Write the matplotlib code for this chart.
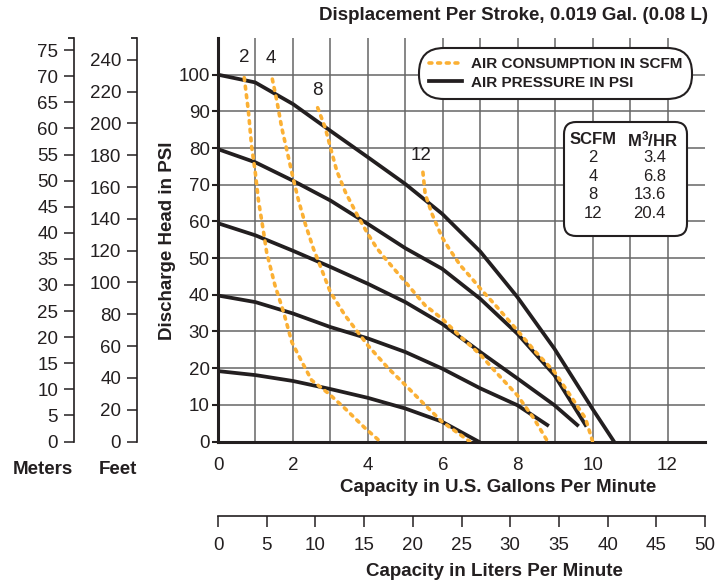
import numpy as np
import matplotlib
matplotlib.use("Agg")
import matplotlib.pyplot as plt
from matplotlib.patches import FancyBboxPatch

plt.rcParams['font.family'] = ['Liberation Sans Narrow', 'Liberation Sans', 'DejaVu Sans']
plt.rcParams['mathtext.default'] = 'regular'

# air pressure curves (psi); x = US gpm, y = discharge head psi
psi100_x = [0, 0.99, 2.0, 3.0, 4.0, 5.0, 5.98, 7.0, 7.99, 8.98, 9.99, 10.57]
psi100_y = [100, 97.9, 92.0, 84.7, 77.5, 70.2, 62.1, 51.8, 39.4, 25.3, 9.0, 0]
psi80_x = [0, 1.0, 2.0, 3.0, 4.0, 5.0, 5.98, 7.0, 7.99, 8.98, 9.81]
psi80_y = [79.7, 76.1, 71.1, 65.7, 59.3, 52.7, 47.1, 38.9, 29.4, 18.1, 4.5]
psi60_x = [0, 1.0, 2.0, 3.0, 4.0, 5.0, 5.98, 7.0, 7.99, 8.98, 9.59]
psi60_y = [59.5, 56.2, 52.0, 47.6, 43.0, 38.0, 32.1, 24.4, 17.2, 9.9, 4.5]
psi40_x = [0, 1.0, 2.0, 3.0, 4.0, 5.0, 5.98, 7.0, 7.99, 8.79]
psi40_y = [39.8, 38.0, 34.9, 31.2, 28.1, 24.4, 19.9, 14.5, 9.9, 4.5]
psi20_x = [0, 1.0, 2.0, 3.0, 4.0, 5.0, 5.98, 6.95]
psi20_y = [19.2, 18.1, 16.5, 14.3, 11.9, 9.0, 5.4, 0]

# air consumption curves (scfm)
scfm2_x = [0.70, 0.81, 0.90, 0.99, 1.08, 1.21, 1.30, 1.52, 1.75, 1.97, 2.24, 2.5, 2.95, 3.39, 3.93, 4.33]
scfm2_y = [99.2, 90.2, 80.2, 73.8, 65.7, 57.5, 51.5, 42.6, 35.3, 27.1, 21.7, 16.7, 13.1, 9.0, 3.6, 0]
scfm4_x = [1.45, 1.57, 1.70, 1.84, 2.0, 2.15, 2.33, 2.55, 2.69, 3.0, 3.39, 4.0, 4.55, 5.0, 5.53, 5.98, 6.72]
scfm4_y = [98.8, 92.9, 85.6, 79.3, 72.0, 65.7, 59.3, 52.5, 48.9, 40.7, 34.4, 26.2, 19.9, 15.4, 9.9, 5.4, 0]
scfm8_x = [2.66, 2.86, 3.0, 3.17, 3.4, 3.75, 4.0, 4.24, 4.47, 5.0, 5.53, 5.98, 6.43, 7.0, 7.41, 7.99, 8.43, 8.8]
scfm8_y = [91.0, 85.6, 80.2, 73.8, 68.0, 61.1, 56.6, 52.7, 49.8, 43.5, 37.1, 33.5, 29.0, 23.7, 19.0, 12.6, 6.3, 0]
scfm12_x = [5.47, 5.53, 5.71, 5.98, 6.16, 6.47, 6.78, 7.0, 7.41, 7.99, 8.48, 8.98, 9.46, 9.81, 10.0]
scfm12_y = [73.4, 67.5, 62.1, 55.7, 52.7, 48.0, 44.4, 41.7, 37.1, 30.3, 24.4, 19.0, 11.7, 6.3, 0]

scfm_names = ["2", "4", "8", "12"]
m3hr_names = ["3.4", "6.8", "13.6", "20.4"]

gal_ticks = np.arange(0, 13, 2)
psi_ticks = np.arange(0, 101, 10)
m_ticks = np.arange(0, 76, 5)
ft_ticks = np.arange(0, 241, 20)
lpm_ticks = np.arange(0, 51, 5)

M_PER_PSI = 0.70307
FT_PER_PSI = 2.3067
PSI_MAX = 110

INK = '#231f20'
ORANGE = '#FBB034'
FS = 13.5

def px(x, y):
    return x / 728.0, 1 - y / 587.0

fig = plt.figure(figsize=(7.28, 5.87), dpi=100)
L, B, W, H = 218/728, 145.5/587, 487/728, 403.5/587
ax = fig.add_axes([L, B, W, H])
ax.set_xlim(0, 13)
ax.set_ylim(0, PSI_MAX)

ax.set_xticks(gal_ticks)
ax.set_xticks(np.arange(1, 12, 2), minor=True)
ax.set_yticks(psi_ticks)
ax.grid(which='both', color='#666666', lw=1.1, zorder=0)
ax.set_axisbelow(True)
for s in ['top', 'right']:
    ax.spines[s].set_visible(False)
for s in ['left', 'bottom']:
    ax.spines[s].set_linewidth(2.2)
    ax.spines[s].set_color(INK)
ax.tick_params(axis='x', which='both', length=0, pad=11, labelsize=FS, colors=INK)
ax.tick_params(axis='y', length=4, width=1.5, pad=2, labelsize=FS, colors=INK)

psi_x = [psi100_x, psi80_x, psi60_x, psi40_x, psi20_x]
psi_y = [psi100_y, psi80_y, psi60_y, psi40_y, psi20_y]
for i, (xs, ys) in enumerate(zip(psi_x, psi_y)):
    ax.plot(xs, ys, color=INK, lw=2.7, zorder=3, solid_joinstyle='round',
            label='AIR PRESSURE IN PSI' if i == 0 else '_nolegend_')

scfm_x = [scfm2_x, scfm4_x, scfm8_x, scfm12_x]
scfm_y = [scfm2_y, scfm4_y, scfm8_y, scfm12_y]
for i, (xs, ys) in enumerate(zip(scfm_x, scfm_y)):
    ax.plot(xs, ys, color=ORANGE, lw=2.6, linestyle=(0, (0.8, 1.6)),
            dash_capstyle='round', zorder=4,
            label='AIR CONSUMPTION IN SCFM' if i == 0 else '_nolegend_')

# curve numbers
lab_pos = [(0.70, 104.6), (1.42, 104.4), (2.65, 95.6), (5.43, 78.0)]
for name, (lx, ly) in zip(scfm_names, lab_pos):
    ax.text(lx, ly, name, ha='center', va='center', fontsize=FS, color=INK)

h, l = ax.get_legend_handles_labels()
leg = ax.legend(h[::-1], l[::-1], loc='upper right', bbox_to_anchor=(0.973, 0.975),
                prop={'weight': 'bold', 'size': 11}, handlelength=2.2,
                handletextpad=0.6, labelspacing=0.3, borderpad=0.6,
                borderaxespad=0, framealpha=1, fancybox=True)
fr = leg.get_frame()
fr.set_boxstyle('round,pad=0,rounding_size=1.6')
fr.set_edgecolor(INK)
fr.set_linewidth(1.5)
for t in leg.get_texts():
    t.set_color(INK)

# SCFM -> m3/hr table
x0, x1 = (564-218)/487, (687-218)/487
y0, y1 = (441.5-236)/403.5, (441.5-122)/403.5
box = FancyBboxPatch((x0, y0), x1-x0, y1-y0, boxstyle='round,pad=0,rounding_size=0.025',
                     mutation_aspect=487/403.5, transform=ax.transAxes,
                     facecolor='white', edgecolor=INK, lw=1.5, zorder=5)
ax.add_patch(box)
fig.text(*px(593, 139), 'SCFM', ha='center', va='center', fontsize=12,
         fontweight='bold', color=INK, zorder=6)
fig.text(*px(653, 139), 'M$^{3}$/HR', ha='center', va='center', fontsize=12,
         fontweight='bold', color=INK, zorder=6)
for i, (a, b) in enumerate(zip(scfm_names, m3hr_names)):
    yy = 158 + i*18.5
    fig.text(*px(593, yy), a, ha='center', va='center', fontsize=12, color=INK, zorder=6)
    fig.text(*px(666, yy), b, ha='right', va='center', fontsize=12, color=INK, zorder=6)

# meters and feet scales
for xpix, top, ticks in [(74, PSI_MAX*M_PER_PSI, m_ticks), (137, PSI_MAX*FT_PER_PSI, ft_ticks)]:
    a2 = fig.add_axes([xpix/728, B, 0.0001, H])
    a2.patch.set_visible(False)
    for s in ['top', 'right', 'bottom']:
        a2.spines[s].set_visible(False)
    a2.spines['left'].set_linewidth(1.2)
    a2.spines['left'].set_color(INK)
    a2.set_ylim(0, top)
    a2.set_xticks([])
    a2.set_yticks(ticks)
    a2.set_yticks([top], minor=True)
    a2.tick_params(axis='y', length=7.5, width=1.1, pad=4, labelsize=FS, colors=INK)
    a2.tick_params(axis='y', which='minor', length=4, width=1.1)

# liters scale
al = fig.add_axes([L, (587-516)/587, W, 0.0001])
al.patch.set_visible(False)
for s in ['top', 'left', 'right']:
    al.spines[s].set_visible(False)
al.spines['bottom'].set_linewidth(1.2)
al.spines['bottom'].set_color(INK)
al.set_xlim(0, 50)
al.set_yticks([])
al.set_xticks(lpm_ticks)
al.tick_params(axis='x', length=8, width=1.1, pad=7, labelsize=FS, colors=INK)

# labels
fig.text(*px(708, 15), 'Displacement Per Stroke, 0.019 Gal. (0.08 L)', ha='right',
         va='center', fontsize=FS, fontweight='bold', color=INK)
fig.text(*px(498, 488), 'Capacity in U.S. Gallons Per Minute', ha='center',
         va='center', fontsize=FS, fontweight='bold', color=INK)
fig.text(*px(494, 572), 'Capacity in Liters Per Minute', ha='center',
         va='center', fontsize=FS, fontweight='bold', color=INK)
fig.text(*px(168, 241), 'Discharge Head in PSI', ha='center', va='center',
         rotation=90, fontsize=FS, fontweight='bold', color=INK)
fig.text(*px(43, 469), 'Meters', ha='center', va='center', fontsize=FS,
         fontweight='bold', color=INK)
fig.text(*px(118, 469), 'Feet', ha='center', va='center', fontsize=FS,
         fontweight='bold', color=INK)

fig.savefig('out.png', dpi=100)
